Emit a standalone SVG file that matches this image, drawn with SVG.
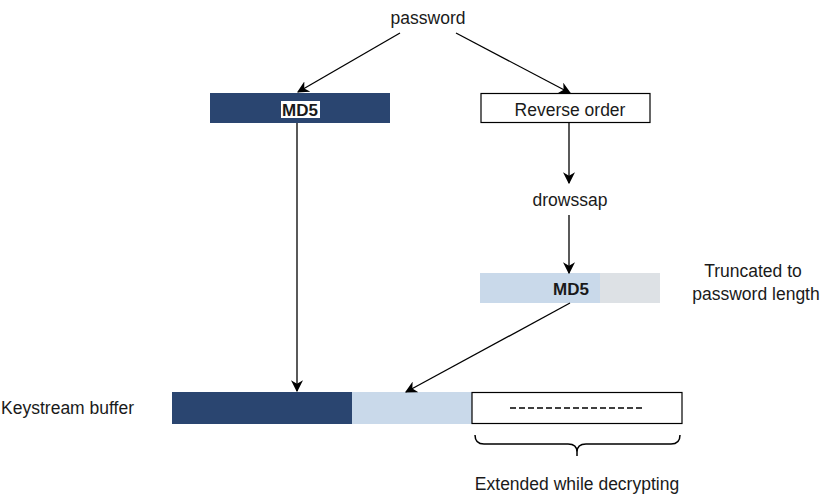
<svg xmlns="http://www.w3.org/2000/svg" width="831" height="495" viewBox="0 0 831 495">
<defs>
<style>
text{font-family:"Liberation Sans",Arial,sans-serif;font-size:17.5px;fill:#1a1a1a}
.b{font-weight:bold;font-size:17px}
.ln{stroke:#000;stroke-width:1.3;fill:none}
</style>
<marker id="ah" viewBox="0 0 10 10" refX="9" refY="5" markerWidth="12" markerHeight="12" markerUnits="userSpaceOnUse" orient="auto">
<path d="M0,0 L10,5 L0,10 L3,5 Z" fill="#000"/>
</marker>
</defs>
<rect width="831" height="495" fill="#fff"/>
<g id="password"><text x="428" y="24" text-anchor="middle">password</text></g>
<g id="md5-left">
<rect x="210" y="93" width="180" height="30" fill="#2a4570"/>
<rect x="281" y="101" width="39" height="17" fill="#fff"/>
<text class="b" x="300" y="116" text-anchor="middle">MD5</text>
</g>
<g id="reverse">
<rect x="481" y="93.5" width="169" height="29" fill="#fff" stroke="#000" stroke-width="1.2"/>
<text x="570" y="116" text-anchor="middle">Reverse order</text>
</g>
<g id="drowssap"><text x="570" y="206" text-anchor="middle">drowssap</text></g>
<g id="md5-trunc">
<rect x="480" y="273" width="120" height="30" fill="#c9d9ea"/>
<rect x="600" y="273" width="60" height="30" fill="#dde1e5"/>
<text class="b" x="571" y="295" text-anchor="middle">MD5</text>
</g>
<g id="trunc-label">
<text x="753" y="277" text-anchor="middle">Truncated to</text>
<text x="756" y="300" text-anchor="middle">password length</text>
</g>
<g id="keystream-label"><text x="134" y="414" text-anchor="end">Keystream buffer</text></g>
<g id="keystream">
<rect x="172" y="392" width="180" height="32" fill="#2a4570"/>
<rect x="352" y="392" width="120" height="32" fill="#c9d9ea"/>
<rect x="472" y="392.5" width="210" height="31" fill="#fff" stroke="#000" stroke-width="1.2"/>
<line x1="510" y1="408" x2="642" y2="408" stroke="#000" stroke-width="1.4" stroke-dasharray="6,3"/>
</g>
<g id="brace">
<path class="ln" style="stroke-width:1.5" d="M475,435 Q475,444 484,444 L568,444 Q577,444 577,452 Q577,444 586,444 L671,444 Q680,444 680,435"/>
<line class="ln" style="stroke-width:1.5" x1="577" y1="452" x2="577" y2="456"/>
</g>
<g id="extended-label"><text x="577" y="490" text-anchor="middle">Extended while decrypting</text></g>
<g id="connectors">
<line class="ln" x1="400" y1="33" x2="298" y2="92" marker-end="url(#ah)"/>
<line class="ln" x1="456" y1="33" x2="570" y2="93" marker-end="url(#ah)"/>
<line class="ln" x1="569" y1="123" x2="569" y2="183" marker-end="url(#ah)"/>
<line class="ln" x1="569" y1="215" x2="569" y2="273" marker-end="url(#ah)"/>
<line class="ln" x1="297" y1="123" x2="297" y2="391" marker-end="url(#ah)"/>
<line class="ln" x1="570" y1="303" x2="406" y2="392" marker-end="url(#ah)"/>
</g>
</svg>
